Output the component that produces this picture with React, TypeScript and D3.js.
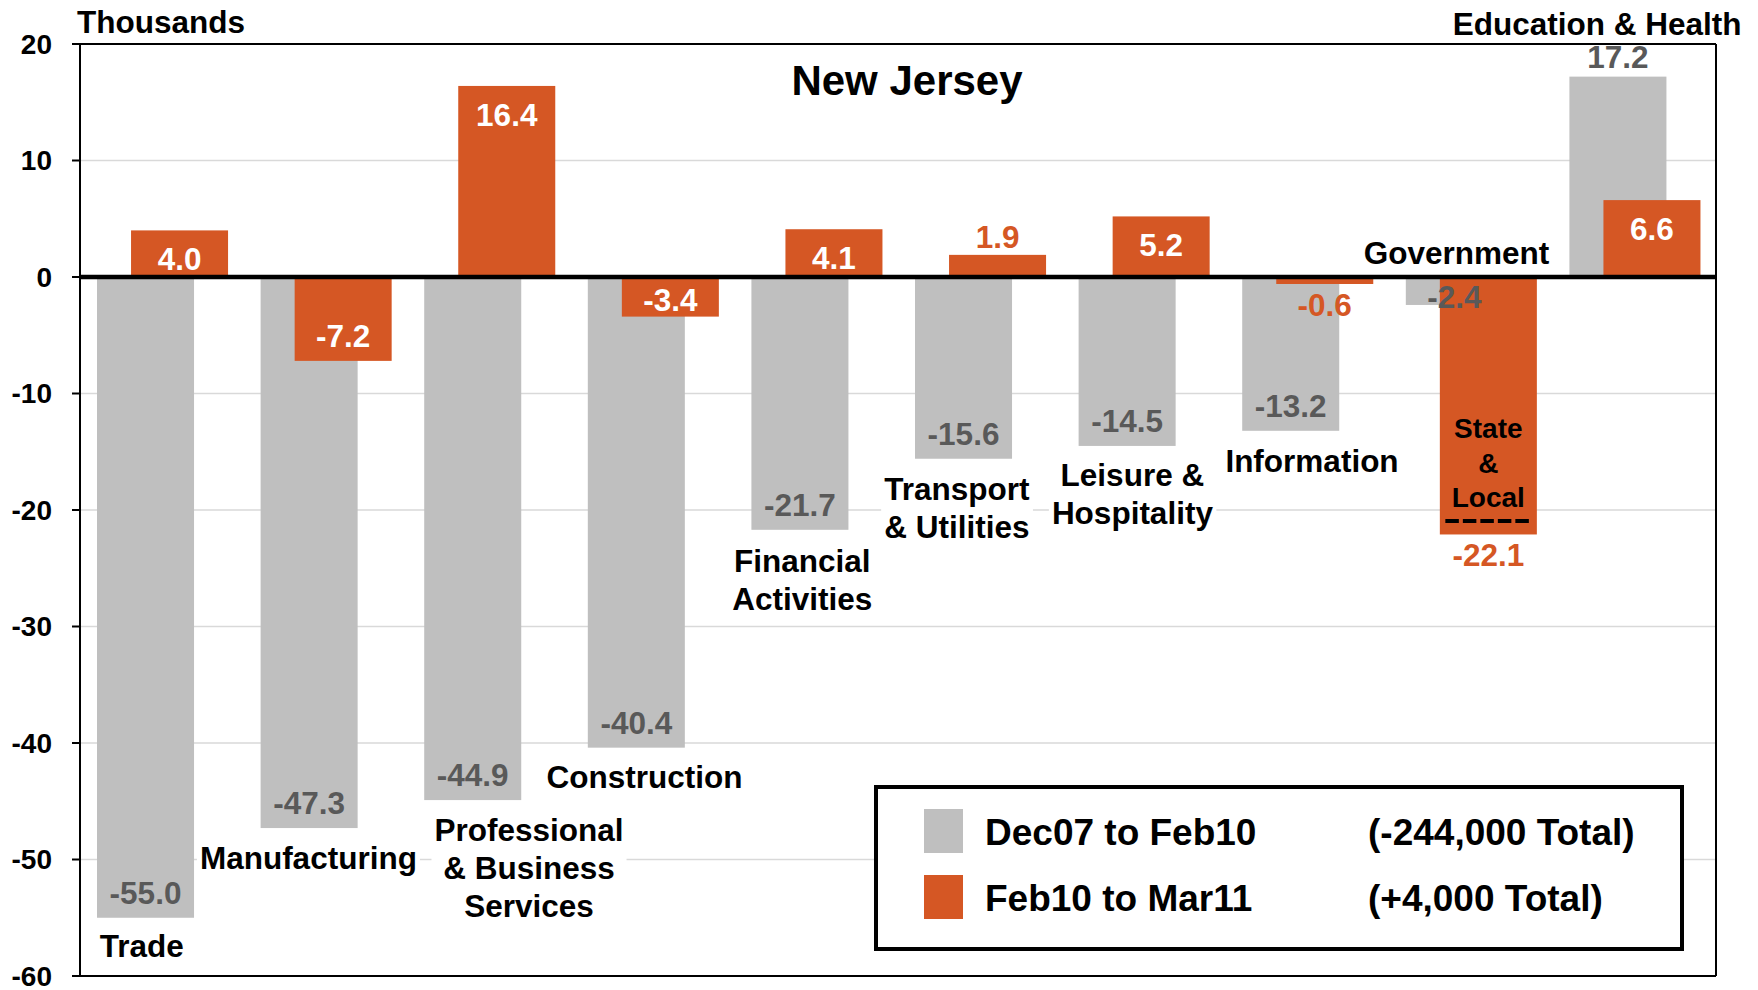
import React, { useEffect, useRef } from 'react';
import * as d3 from 'd3';

const categories = [
  'Trade', 'Manufacturing', 'Professional & Business Services', 'Construction',
  'Financial Activities', 'Transport & Utilities', 'Leisure & Hospitality',
  'Information', 'Government', 'Education & Health',
];
const dec07ToFeb10 = [-55.0, -47.3, -44.9, -40.4, -21.7, -15.6, -14.5, -13.2, -2.4, 17.2];
const feb10ToMar11 = [4.0, -7.2, 16.4, -3.4, 4.1, 1.9, 5.2, -0.6, -22.1, 6.6];
const yTicks = [20, 10, 0, -10, -20, -30, -40, -50, -60];
const gridValues = [10, -10, -20, -30, -40, -50];
const seriesNames = ['Dec07 to Feb10', 'Feb10 to Mar11'];
const seriesTotals = ['(-244,000 Total)', '(+4,000 Total)'];
const categoryLabelLines = [
  ['Trade'], ['Manufacturing'], ['Professional', '& Business', 'Services'], ['Construction'],
  ['Financial', 'Activities'], ['Transport', '& Utilities'], ['Leisure &', 'Hospitality'],
  ['Information'], ['Government'], ['Education & Health'],
];
const subLabelLines = ['State', '&', 'Local'];

// layout (annotation placement): dx from band centre in px, first baseline as data value
const labelDx = [-20, -17, 40, -8, -14, -23, -11, 5, -14, -37];
const labelY = [-58.37, -50.79, -48.41, -43.86, -25.32, -19.14, -17.94, -16.74, 1.12, 20.77];
const orangeLabelOutside = [false, false, false, false, false, true, false, true, true, false];

const W = 1758, H = 990;
const GREY = '#BFBFBF', ORANGE = '#D55724', DARK = '#595959';
const FONT = '"Liberation Sans", Arial, Helvetica, sans-serif';

export default function App() {
  const ref = useRef<SVGSVGElement | null>(null);

  useEffect(() => {
    const svg = d3.select(ref.current);
    svg.selectAll('*').remove();

    const x = d3.scaleBand<string>().domain(categories).range([80, 1716]).paddingInner(0).paddingOuter(0);
    const y = d3.scaleLinear().domain([-60, 20]).range([976, 44]);
    const bw = x.bandwidth();
    const barW = bw * 0.593;
    const greyOff = bw * 0.104;
    const orangeOff = bw * 0.312;

    // gridlines
    svg.append('g').selectAll('line').data(gridValues).join('line')
      .attr('x1', 80).attr('x2', 1716)
      .attr('y1', (d) => y(d)).attr('y2', (d) => y(d))
      .attr('stroke', '#D9D9D9').attr('stroke-width', 1.5);

    // borders
    const border = svg.append('g').attr('stroke', '#000').attr('stroke-width', 2).attr('fill', 'none');
    border.append('line').attr('x1', 72).attr('x2', 1716).attr('y1', y(20)).attr('y2', y(20));
    border.append('line').attr('x1', 1716).attr('x2', 1716).attr('y1', y(20)).attr('y2', y(-60));
    border.append('line').attr('x1', 80).attr('x2', 1716).attr('y1', y(-60)).attr('y2', y(-60));
    border.append('line').attr('x1', 80).attr('x2', 80).attr('y1', y(20)).attr('y2', y(-60));
    border.selectAll('line.tick').data(yTicks).join('line').attr('class', 'tick')
      .attr('x1', 72).attr('x2', 80).attr('y1', (d) => y(d)).attr('y2', (d) => y(d));

    // tick labels
    svg.append('g').selectAll('text').data(yTicks).join('text')
      .attr('x', 52).attr('y', (d) => y(d) + 9.5)
      .attr('text-anchor', 'end').attr('font-family', FONT).attr('font-weight', 'bold')
      .attr('font-size', 28).attr('fill', '#000').text((d) => String(d));

    // category labels (with white background boxes)
    const bgLayer = svg.append('g');
    const barLayer = svg.append('g');
    const topLayer = svg.append('g');

    const catG = topLayer.append('g');
    categories.forEach((c, i) => {
      const cx = (x(c) as number) + bw / 2 + labelDx[i];
      const t = catG.append('text')
        .attr('x', cx).attr('y', y(labelY[i]))
        .attr('text-anchor', 'middle').attr('font-family', FONT).attr('font-weight', 'bold')
        .attr('font-size', 31.5).attr('fill', '#000');
      categoryLabelLines[i].forEach((ln, j) => {
        t.append('tspan').attr('x', cx).attr('dy', j === 0 ? 0 : 38).text(ln);
      });
      const node = t.node() as SVGTextElement;
      const bb = node.getBBox();
      bgLayer.append('rect')
        .attr('x', bb.x - 3).attr('y', bb.y + 2).attr('width', bb.width + 6).attr('height', bb.height - 2)
        .attr('fill', '#fff');
    });

    // bars
    barLayer.selectAll('rect.g').data(dec07ToFeb10).join('rect').attr('class', 'g')
      .attr('x', (_d, i) => (x(categories[i]) as number) + greyOff)
      .attr('width', barW)
      .attr('y', (d) => y(Math.max(0, d)))
      .attr('height', (d) => Math.abs(y(d) - y(0)))
      .attr('fill', GREY);
    barLayer.selectAll('rect.o').data(feb10ToMar11).join('rect').attr('class', 'o')
      .attr('x', (_d, i) => (x(categories[i]) as number) + orangeOff)
      .attr('width', barW)
      .attr('y', (d) => y(Math.max(0, d)))
      .attr('height', (d) => Math.abs(y(d) - y(0)))
      .attr('fill', ORANGE);

    // zero line
    barLayer.append('line').attr('x1', 80).attr('x2', 1716).attr('y1', y(0)).attr('y2', y(0))
      .attr('stroke', '#000').attr('stroke-width', 4.5);

    // value labels
    const vl = topLayer.append('g').attr('font-family', FONT).attr('font-weight', 'bold')
      .attr('font-size', 31.5).attr('text-anchor', 'middle');
    dec07ToFeb10.forEach((v, i) => {
      const cx = (x(categories[i]) as number) + greyOff + barW / 2;
      const by = v < 0 ? Math.max(y(v) - 14, y(0) + 31) : y(v) - 9;
      vl.append('text').attr('x', cx).attr('y', by).attr('fill', DARK).text(v.toFixed(1));
    });
    feb10ToMar11.forEach((v, i) => {
      const cx = (x(categories[i]) as number) + orangeOff + barW / 2;
      let by: number;
      let fill = '#fff';
      if (orangeLabelOutside[i]) {
        fill = ORANGE;
        by = v < 0 ? y(v) + 32 : y(v) - 7;
      } else {
        by = v < 0 ? Math.max(y(v) - 14, y(0) + 34) : Math.min(y(v) + 40, y(0) - 7);
      }
      vl.append('text').attr('x', cx).attr('y', by).attr('fill', fill).text(v.toFixed(1));
    });

    // State & Local annotation inside the Government orange bar
    const gi = categories.indexOf('Government');
    const gcx = (x(categories[gi]) as number) + orangeOff + barW / 2;
    const sl = topLayer.append('text').attr('x', gcx).attr('y', 438)
      .attr('text-anchor', 'middle').attr('font-family', FONT).attr('font-weight', 'bold')
      .attr('font-size', 28).attr('fill', '#000');
    subLabelLines.forEach((ln, j) => sl.append('tspan').attr('x', gcx).attr('dy', j === 0 ? 0 : 34.5).text(ln));
    topLayer.append('line')
      .attr('x1', gcx - 43).attr('x2', gcx + 44).attr('y1', 521).attr('y2', 521)
      .attr('stroke', '#000').attr('stroke-width', 4).attr('stroke-dasharray', '13.5 4');

    // title and axis unit
    topLayer.append('text').attr('x', 907).attr('y', 95).attr('text-anchor', 'middle')
      .attr('font-family', FONT).attr('font-weight', 'bold').attr('font-size', 42).text('New Jersey');
    topLayer.append('text').attr('x', 77).attr('y', 33)
      .attr('font-family', FONT).attr('font-weight', 'bold').attr('font-size', 31.5).text('Thousands');

    // legend
    const lg = topLayer.append('g');
    lg.append('rect').attr('x', 876).attr('y', 787).attr('width', 806).attr('height', 162)
      .attr('fill', '#fff').attr('stroke', '#000').attr('stroke-width', 4);
    [GREY, ORANGE].forEach((col, k) => {
      const ry = 809 + k * 66;
      lg.append('rect').attr('x', 924).attr('y', ry).attr('width', 39).attr('height', 44).attr('fill', col);
      lg.append('text').attr('x', 985).attr('y', 845 + k * 66)
        .attr('font-family', FONT).attr('font-weight', 'bold').attr('font-size', 37).text(seriesNames[k]);
      lg.append('text').attr('x', 1368).attr('y', 845 + k * 66)
        .attr('font-family', FONT).attr('font-weight', 'bold').attr('font-size', 37).text(seriesTotals[k]);
    });
  }, []);

  return (
    <svg ref={ref} width={W} height={H} viewBox={`0 0 ${W} ${H}`}
      style={{ position: 'absolute', left: 0, top: 0, background: '#fff' }} />
  );
}
